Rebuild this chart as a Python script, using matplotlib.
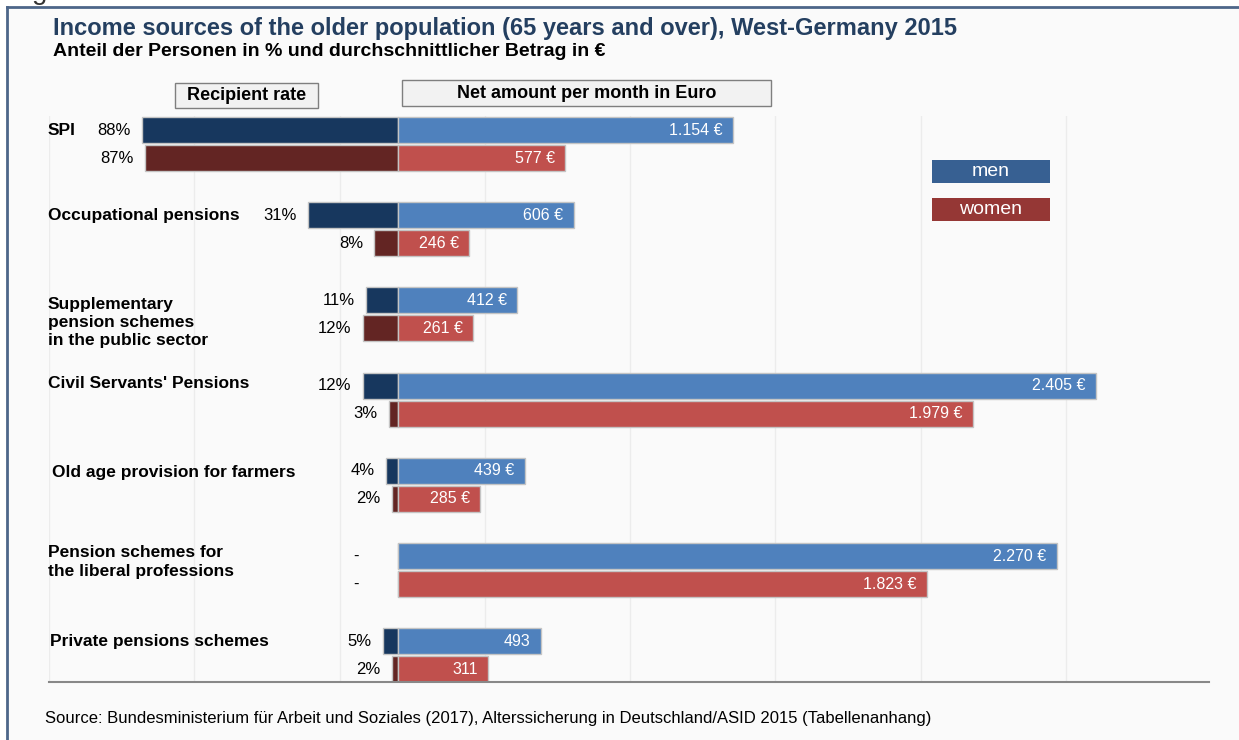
import matplotlib.pyplot as plt
from matplotlib.patches import Rectangle

# data
categories = ["SPI", "Occupational pensions",
              "Supplementary\npension schemes\nin the public sector",
              "Civil Servants' Pensions", "Old age provision for farmers",
              "Pension schemes for\nthe liberal professions",
              "Private pensions schemes"]
rate_men = [88, 31, 11, 12, 4, None, 5]
rate_women = [87, 8, 12, 3, 2, None, 2]
net_men = [1154, 606, 412, 2405, 439, 2270, 493]
net_women = [577, 246, 261, 1979, 285, 1823, 311]
euro_sign = [True, True, True, True, True, True, False]

title = "Income sources of the older population (65 years and over), West-Germany 2015"
subtitle = "Anteil der Personen in % und durchschnittlicher Betrag in €"
source = ("Source: Bundesministerium für Arbeit und Soziales (2017), "
          "Alterssicherung in Deutschland/ASID 2015 (Tabellenanhang)")

RATE_SCALE = 10  # 1 % is drawn as wide as 10 €

c_men_rate = "#17375e"
c_women_rate = "#632523"
c_men_net = "#4f81bd"
c_women_net = "#c0504d"

plt.rcParams['font.family'] = ['Liberation Sans', 'DejaVu Sans']

W, H = 1239, 740
fig = plt.figure(figsize=(W / 100, H / 100), dpi=100)
fig.patch.set_facecolor("white")


def px(x, y):
    return x / W, 1 - y / H


# light background inside the frame + frame lines
fig.patches.append(Rectangle(px(7, H), (W - 7) / W, (H - 7) / H,
                             transform=fig.transFigure, facecolor="#fafafa",
                             edgecolor="none", zorder=-5))
fig.add_artist(plt.Line2D([7 / W, 1], [1 - 7 / H] * 2, color="#4d6689", lw=2))
fig.add_artist(plt.Line2D([7 / W] * 2, [0, 1 - 7 / H], color="#4d6689", lw=2))
fig.text(32 / W, 1 + 1 / H, "g", fontsize=20, color="#333333", va="baseline")

ax = fig.add_axes([49 / W, 1 - 682 / H, (1209 - 49) / W, 566 / H])
ax.set_facecolor("#fafafa")
ax.set_xlim(-1200, 2793)
ax.set_ylim(6.314, -0.329)
for s in ["top", "left", "right"]:
    ax.spines[s].set_visible(False)
ax.spines["bottom"].set_color("#888888")
ax.spines["bottom"].set_linewidth(1.5)
ax.set_xticks(range(-1200, 2301, 500))
ax.set_yticks([])
ax.tick_params(axis="x", length=0, labelbottom=False)
ax.grid(axis="x", color="#ececec", lw=1)
ax.set_axisbelow(True)

off = 0.164
h = 0.305
ys = list(range(len(categories)))
y_m = [y - off for y in ys]
y_w = [y + off for y in ys]

rm = [-(r or 0) * RATE_SCALE for r in rate_men]
rw = [-(r or 0) * RATE_SCALE for r in rate_women]
kw = dict(height=h, edgecolor="#c4c4c4", linewidth=1)
ax.barh(y_m, rm, color=c_men_rate, **kw)
ax.barh(y_w, rw, color=c_women_rate, **kw)
ax.barh(y_m, net_men, color=c_men_net, **kw)
ax.barh(y_w, net_women, color=c_women_net, **kw)


def fmt_eur(v, eur):
    s = f"{v:,}".replace(",", ".")
    return s + " €" if eur else s


for i in ys:
    for y, r, v in [(y_m[i], rate_men[i], net_men[i]),
                    (y_w[i], rate_women[i], net_women[i])]:
        if r is None:
            ax.annotate("-", (0, y), xytext=(-28, 0), textcoords="offset points",
                        ha="right", va="center", fontsize=12)
        else:
            ax.annotate(f"{r}%", (-r * RATE_SCALE, y), xytext=(-8, 0),
                        textcoords="offset points", ha="right", va="center",
                        fontsize=12)
        ax.annotate(fmt_eur(v, euro_sign[i]), (v, y), xytext=(-7.5, 0),
                    textcoords="offset points", ha="right", va="center",
                    fontsize=11.5, color="white")

# category labels (pixel offsets relative to the men bar)
label_dy = [0, 0, 22, -2, 2, 6, 0]
label_dx = [0, 0, 0, 0, 4, 0, 2]
y0 = 116
for i, lab in enumerate(categories):
    ypix = y0 + (y_m[i] + 0.329) * 85.2 + label_dy[i]
    fig.text(*px(48 + label_dx[i], ypix), lab, fontsize=12.5, fontweight="bold",
             ha="left", va="center", linespacing=1.27)

# header boxes
for (x0, x1, yt, yb, txt) in [(175, 318, 83, 108, "Recipient rate"),
                              (402, 771, 80, 106, "Net amount per month in Euro")]:
    fig.patches.append(Rectangle(px(x0, yb), (x1 - x0) / W, (yb - yt) / H,
                                 transform=fig.transFigure, facecolor="#f2f2f2",
                                 edgecolor="#7f7f7f", lw=1, zorder=3))
    fig.text(*px((x0 + x1) / 2, (yt + yb) / 2), txt, fontsize=13,
             fontweight="bold", ha="center", va="center", zorder=4)

# legend boxes
for (yt, yb, col, txt) in [(160, 183, "#376092", "men"),
                           (198, 221, "#953735", "women")]:
    fig.patches.append(Rectangle(px(932, yb), 118 / W, (yb - yt) / H,
                                 transform=fig.transFigure, facecolor=col,
                                 edgecolor="none", zorder=3))
    fig.text(*px(991, (yt + yb) / 2), txt, fontsize=14, color="white",
             ha="center", va="center", zorder=4)

fig.text(*px(53, 28), title, fontsize=17, fontweight="bold",
         color="#243f60", va="center")
fig.text(*px(53, 52), subtitle, fontsize=14, fontweight="bold", va="center")
fig.text(*px(45, 718), source, fontsize=12, va="center")

fig.savefig("out.png", dpi=100, facecolor=fig.get_facecolor())
